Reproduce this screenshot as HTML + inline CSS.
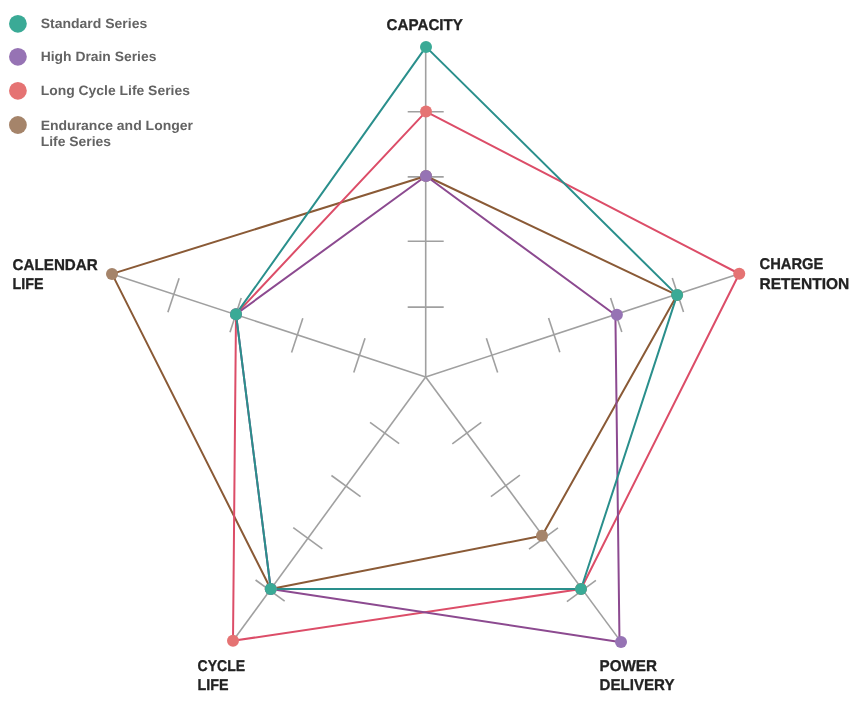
<!DOCTYPE html>
<html lang="en"><head><meta charset="utf-8"><title>Battery Series Comparison</title>
<style>
html,body{margin:0;padding:0;background:#fff;}
body{width:860px;height:708px;overflow:hidden;position:relative;font-family:"Liberation Sans",Arial,Helvetica,sans-serif;}
svg{position:absolute;left:0;top:0;display:block;}
.ax{font-family:"Liberation Sans",Arial,sans-serif;font-weight:700;font-size:15.6px;fill:#222;stroke:#222;stroke-width:0.3px;stroke-linejoin:round;text-rendering:geometricPrecision;}
.lg{font-family:"Liberation Sans",Arial,sans-serif;font-weight:700;font-size:13.6px;fill:#636363;text-rendering:geometricPrecision;}
</style></head><body>
<svg width="860" height="708" viewBox="0 0 860 708">
<g stroke="#a0a0a0" stroke-width="1.6" fill="none" stroke-linecap="butt">
<line x1="425.7" y1="377.0" x2="425.7" y2="46.9"/>
<line x1="425.7" y1="377.0" x2="739.25" y2="273.75"/>
<line x1="425.7" y1="377.0" x2="621.0" y2="641.9"/>
<line x1="425.7" y1="377.0" x2="233.0" y2="640.8"/>
<line x1="425.7" y1="377.0" x2="112.0" y2="273.9"/>
<line x1="407.70" y1="307.10" x2="443.70" y2="307.10"/>
<line x1="407.70" y1="241.30" x2="443.70" y2="241.30"/>
<line x1="407.70" y1="176.90" x2="443.70" y2="176.90"/>
<line x1="407.70" y1="111.80" x2="443.70" y2="111.80"/>
<line x1="486.37" y1="338.20" x2="497.63" y2="372.40"/>
<line x1="548.57" y1="318.10" x2="559.83" y2="352.30"/>
<line x1="610.57" y1="297.90" x2="621.83" y2="332.10"/>
<line x1="672.27" y1="277.90" x2="683.53" y2="312.10"/>
<line x1="481.29" y1="422.42" x2="452.31" y2="443.78"/>
<line x1="519.89" y1="475.22" x2="490.91" y2="496.58"/>
<line x1="557.99" y1="527.82" x2="529.01" y2="549.18"/>
<line x1="595.89" y1="580.32" x2="566.91" y2="601.68"/>
<line x1="399.14" y1="443.62" x2="370.06" y2="422.38"/>
<line x1="360.54" y1="496.72" x2="331.46" y2="475.48"/>
<line x1="322.34" y1="548.92" x2="293.26" y2="527.68"/>
<line x1="284.64" y1="601.22" x2="255.56" y2="579.98"/>
<line x1="353.78" y1="372.50" x2="365.02" y2="338.30"/>
<line x1="291.58" y1="352.40" x2="302.82" y2="318.20"/>
<line x1="229.98" y1="332.30" x2="241.22" y2="298.10"/>
<line x1="167.88" y1="312.35" x2="179.12" y2="278.15"/>
</g>
<polygon points="426.00,176.00 677.10,295.10 542.00,535.80 270.75,589.00 112.00,273.90" fill="none" stroke="#8a5a36" stroke-width="2" stroke-linejoin="round"/>
<polygon points="426.00,111.60 739.25,273.75 581.00,589.00 233.00,640.80 236.00,314.20" fill="none" stroke="#dc4d68" stroke-width="2" stroke-linejoin="round"/>
<polygon points="426.00,176.00 615.40,315.00 619.50,641.90 270.75,589.00 236.00,314.20" fill="none" stroke="#8c4a90" stroke-width="2" stroke-linejoin="round"/>
<polygon points="426.00,46.90 677.10,295.10 581.00,589.00 270.75,589.00 236.00,314.20" fill="none" stroke="#2a8f8c" stroke-width="2" stroke-linejoin="round"/>
<g fill="#a5846a">
<circle cx="426.00" cy="176.00" r="6"/>
<circle cx="677.10" cy="295.10" r="6"/>
<circle cx="542.00" cy="535.80" r="6"/>
<circle cx="270.75" cy="589.00" r="6"/>
<circle cx="112.00" cy="273.90" r="6"/>
</g>
<g fill="#e57373">
<circle cx="426.00" cy="111.60" r="6"/>
<circle cx="739.25" cy="273.75" r="6"/>
<circle cx="581.00" cy="589.00" r="6"/>
<circle cx="233.00" cy="640.80" r="6"/>
<circle cx="236.00" cy="314.20" r="6"/>
</g>
<g fill="#9673b4">
<circle cx="426.00" cy="176.00" r="6"/>
<circle cx="616.90" cy="314.80" r="6"/>
<circle cx="621.00" cy="641.90" r="6"/>
<circle cx="270.75" cy="589.00" r="6"/>
<circle cx="236.00" cy="314.20" r="6"/>
</g>
<g fill="#3aaa96">
<circle cx="426.00" cy="46.90" r="6"/>
<circle cx="677.10" cy="295.10" r="6"/>
<circle cx="581.00" cy="589.00" r="6"/>
<circle cx="270.75" cy="589.00" r="6"/>
<circle cx="236.00" cy="314.20" r="6"/>
</g>
<text class="ax" x="386.6" y="29.5" textLength="76.3" lengthAdjust="spacingAndGlyphs">CAPACITY</text>
<text class="ax" x="759.5" y="269.2" textLength="63.9" lengthAdjust="spacingAndGlyphs">CHARGE</text>
<text class="ax" x="759.5" y="288.6" textLength="89.8" lengthAdjust="spacingAndGlyphs">RETENTION</text>
<text class="ax" x="12.5" y="270.2" textLength="85.3" lengthAdjust="spacingAndGlyphs">CALENDAR</text>
<text class="ax" x="12.5" y="289.3" textLength="30.9" lengthAdjust="spacingAndGlyphs">LIFE</text>
<text class="ax" x="197.6" y="670.8" textLength="47.6" lengthAdjust="spacingAndGlyphs">CYCLE</text>
<text class="ax" x="197.6" y="689.5" textLength="31" lengthAdjust="spacingAndGlyphs">LIFE</text>
<text class="ax" x="599.5" y="670.85" textLength="57.5" lengthAdjust="spacingAndGlyphs">POWER</text>
<text class="ax" x="599.5" y="689.6" textLength="75" lengthAdjust="spacingAndGlyphs">DELIVERY</text>
<circle cx="17.9" cy="23.8" r="8.9" fill="#3aaa96"/>
<text class="lg" x="40.7" y="28.2" textLength="106.6" lengthAdjust="spacingAndGlyphs">Standard Series</text>
<circle cx="17.9" cy="56.8" r="8.9" fill="#9673b4"/>
<text class="lg" x="40.7" y="61.1" textLength="115.7" lengthAdjust="spacingAndGlyphs">High Drain Series</text>
<circle cx="17.9" cy="90.8" r="8.9" fill="#e57373"/>
<text class="lg" x="40.7" y="95.3" textLength="149.2" lengthAdjust="spacingAndGlyphs">Long Cycle Life Series</text>
<circle cx="17.9" cy="125.0" r="8.9" fill="#a5846a"/>
<text class="lg" x="40.7" y="129.8" textLength="152.3" lengthAdjust="spacingAndGlyphs">Endurance and Longer</text>
<text class="lg" x="40.7" y="146.2" textLength="70.4" lengthAdjust="spacingAndGlyphs">Life Series</text>
</svg>
</body></html>
